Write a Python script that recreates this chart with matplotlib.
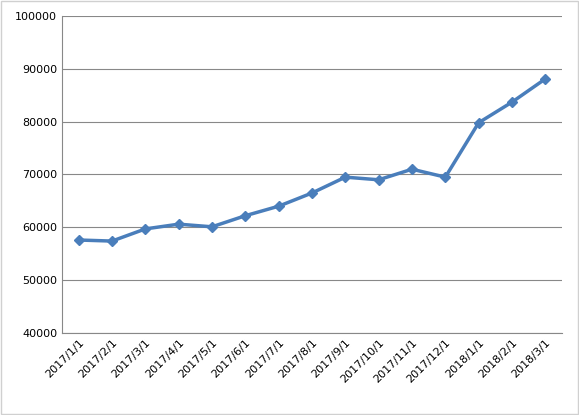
import matplotlib.pyplot as plt

dates = ["2017/1/1", "2017/2/1", "2017/3/1", "2017/4/1", "2017/5/1", "2017/6/1",
         "2017/7/1", "2017/8/1", "2017/9/1", "2017/10/1", "2017/11/1", "2017/12/1",
         "2018/1/1", "2018/2/1", "2018/3/1"]
values = [57600, 57400, 59700, 60600, 60100, 62200, 64000, 66500, 69500,
          69000, 71000, 69500, 79800, 83700, 88100]

fig = plt.figure(figsize=(5.79, 4.15), dpi=100)
ax = fig.add_axes([62 / 579, 1 - 333 / 415, 500 / 579, 317 / 415])

x = list(range(len(dates)))
ax.plot(x, values, color="#4a7ebb", linewidth=2.5, marker="D", markersize=5)

ax.set_ylim(40000, 100000)
ax.set_yticks(range(40000, 100001, 10000))
ax.set_xlim(-0.5, len(dates) - 0.5)
ax.set_xticks(x)
ax.set_xticklabels(dates, rotation=45, ha="right", rotation_mode="anchor")
ax.tick_params(labelsize=8, length=0)
ax.yaxis.grid(True, color="#888888", linewidth=0.8)
ax.set_axisbelow(True)
for s in ["top", "right"]:
    ax.spines[s].set_visible(False)
ax.spines["left"].set_color("#888888")
ax.spines["bottom"].set_color("#888888")

fig.patches.append(plt.Rectangle((0.002, 0.002), 0.996, 0.996, transform=fig.transFigure,
                                 fill=False, edgecolor="#d0d0d0", linewidth=1))
fig.savefig("out.png", dpi=100)
